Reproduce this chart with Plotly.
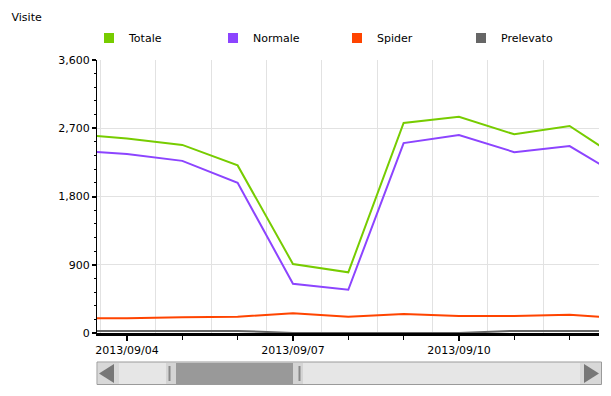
import plotly.graph_objects as go

# ---- data ----
dates = ["2013-09-03", "2013-09-04", "2013-09-05", "2013-09-06", "2013-09-07", "2013-09-08",
         "2013-09-09", "2013-09-10", "2013-09-11", "2013-09-12", "2013-09-13"]
totale = [2625, 2565, 2480, 2210, 910, 800, 2770, 2850, 2620, 2730, 2250]
normale = [2410, 2360, 2270, 1980, 650, 570, 2505, 2610, 2385, 2465, 2030]
spider = [195, 195, 207, 215, 260, 215, 250, 225, 225, 240, 190]
prelevato = [28, 28, 28, 28, 0, 0, 0, 0, 28, 28, 28]

series_names = ["Totale", "Normale", "Spider", "Prelevato"]
series_values = [totale, normale, spider, prelevato]
colors = ["#77cc00", "#8c44ff", "#ff4400", "#666666"]

y_ticks = [0, 900, 1800, 2700, 3600]
x_range = ["2013-09-03 11:00", "2013-09-12 12:45"]

FONT = "DejaVu Sans, Verdana, sans-serif"

# page body has an 8px default margin: figure is sized/positioned to compensate
OFF = 8
W, H = 611 - OFF, 396 - OFF
# plot-area edges in screen pixels
SL, SR, ST, SB = 97, 599, 60, 333

fig = go.Figure()
for name, vals, col in zip(series_names, series_values, colors):
    fig.add_trace(go.Scatter(x=dates, y=vals, mode="lines", name=name,
                             line=dict(color=col, width=2), showlegend=False,
                             hoverinfo="x+y+name"))
# legend entries (square swatches), attached to the grid axis so it is drawn
for name, col in zip(series_names, colors):
    fig.add_trace(go.Scatter(x=[None], y=[None], mode="markers", name=name,
                             xaxis="x2", yaxis="y",
                             marker=dict(symbol="square", size=10, color=col),
                             showlegend=True))

def px(x):
    return (x - SL) / (SR - SL)
def py(y):
    return (SB - y) / (SB - ST)

shapes = []
def rect(x0, y0, x1, y1, fill, line=None, lw=0):
    shapes.append(dict(type="rect", xref="paper", yref="paper",
                       x0=px(x0), x1=px(x1), y0=py(y1), y1=py(y0),
                       fillcolor=fill, line=dict(color=line or fill, width=lw), layer="above"))
def path(pts, fill):
    d = "M " + " L ".join(f"{px(a)},{py(b)}" for a, b in pts) + " Z"
    shapes.append(dict(type="path", xref="paper", yref="paper", path=d,
                       fillcolor=fill, line=dict(width=0), layer="above"))
def vline(x, y0, y1, col, w):
    shapes.append(dict(type="line", xref="paper", yref="paper", x0=px(x), x1=px(x),
                       y0=py(y0), y1=py(y1), line=dict(color=col, width=w), layer="above"))

rect(97, 362, 601.5, 384.5, "#e6e6e6", "#9a9a9a", 1)
rect(98, 363, 119, 384, "#d8d8d8")
path([(99, 373.5), (114, 364), (114, 383)], "#777777")
rect(580, 363, 601, 384, "#d8d8d8")
path([(599, 373.5), (584, 364), (584, 383)], "#777777")
rect(166, 363, 176, 384, "#d4d4d4")
vline(169.5, 366, 381, "#888888", 2)
rect(176, 363, 293, 384, "#999999")
rect(293, 363, 303, 384, "#d4d4d4")
vline(299.5, 366, 381, "#888888", 2)

fig.update_layout(
    width=W, height=H,
    margin=dict(l=SL - OFF, r=W - (SR - OFF), t=ST - OFF, b=H - (SB - OFF), autoexpand=False),
    paper_bgcolor="white", plot_bgcolor="white",
    font=dict(family=FONT, size=11, color="#000000"),
    title=dict(text="Visite", x=3.5 / W, xref="container", xanchor="left",
               y=1 - (17 - OFF) / H, yref="container", yanchor="middle",
               font=dict(family=FONT, size=11, color="#000000")),
    showlegend=True,
    legend=dict(orientation="h", x=-8 / 502, xanchor="left", y=py(38), yanchor="middle",
                entrywidth=79, entrywidthmode="pixels", itemwidth=30,
                font=dict(family=FONT, size=11, color="#000000"),
                bgcolor="rgba(0,0,0,0)", tracegroupgap=0),
    xaxis=dict(type="date", range=x_range, tick0="2013-09-04", dtick=3 * 86400000,
               tickformat="%Y/%m/%d", ticks="outside", ticklen=5, tickwidth=2,
               tickcolor="#000000", showgrid=False, zeroline=False,
               showline=True, linecolor="#000000", linewidth=3,
               minor=dict(tick0="2013-09-04", dtick=86400000, ticks="outside",
                          ticklen=4, tickwidth=1, tickcolor="#000000", showgrid=False),
               tickfont=dict(family=FONT, size=11, color="#000000"), fixedrange=True),
    xaxis2=dict(type="date", range=x_range, overlaying="x", side="bottom", anchor="y",
                tick0="2013-09-04 12:30", dtick=86400000, showticklabels=False,
                ticks="", showgrid=True, gridcolor="#e2e2e2", gridwidth=1,
                zeroline=False, showline=False, fixedrange=True),
    yaxis=dict(range=[0, 3600], tickvals=y_ticks, tickformat=",",
               ticks="outside", ticklen=4, tickwidth=2, tickcolor="#000000",
               minor=dict(dtick=180, tick0=0, ticks="outside", ticklen=2, tickwidth=1,
                          tickcolor="#000000", showgrid=False),
               showgrid=True, gridcolor="#e2e2e2", gridwidth=1, zeroline=False,
               showline=True, linecolor="#000000", linewidth=1,
               tickfont=dict(family=FONT, size=11, color="#000000"), fixedrange=True),
    shapes=shapes,
)

fig.write_html("out.html")
